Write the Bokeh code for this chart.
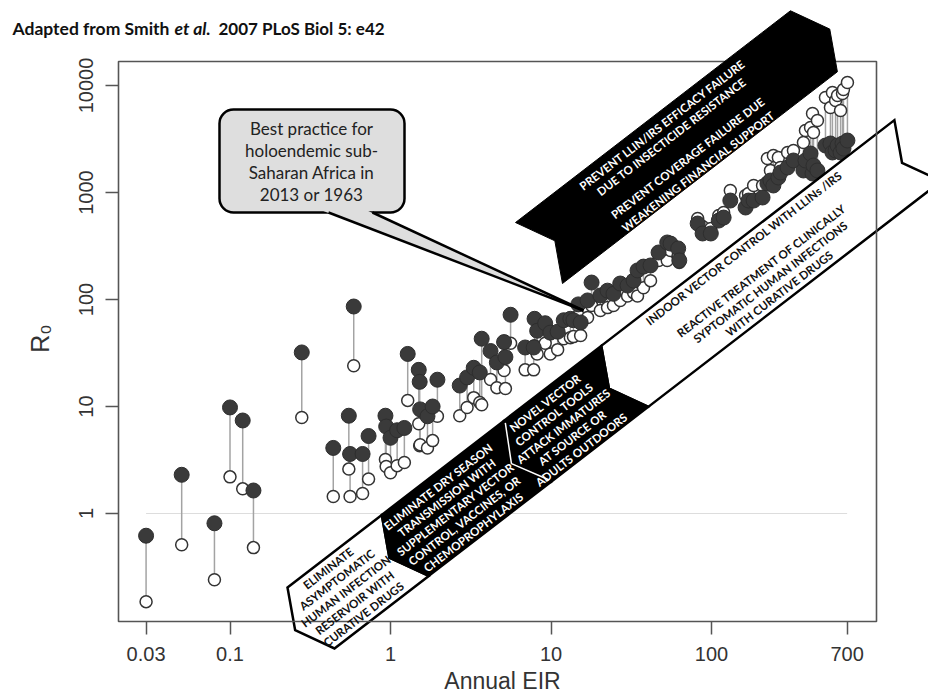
import math
from bokeh.plotting import figure
from bokeh.models import (ColumnDataSource, FixedTicker, Label, PolyAnnotation,
                          BoxAnnotation, Range1d, LogAxis, LogScale)
from bokeh.embed import file_html
from bokeh.resources import INLINE

# ---------------- data ----------------
eir = [0.03, 0.05, 0.08, 0.10, 0.12, 0.14, 0.28, 0.59, 0.44, 0.55,
       0.56, 0.67, 0.73, 0.93, 0.94, 1.0, 1.1, 1.22, 1.28, 1.5,
       1.52, 1.53, 1.7, 1.83, 1.96, 2.7,
       3.0, 3.3, 3.6, 3.7, 4.2, 4.6, 5.1, 5.2, 5.6, 6.9,
       7.8, 7.9, 8.2, 9.2, 9.9, 11, 12, 13.2, 13.8, 14.8,
       15.3, 16.9, 17.9, 20.3, 22.5, 24.5, 27, 30, 32.7, 34.6,
       37.7, 41.7, 46.8, 53, 55.6, 62, 63,
       82, 88, 99, 111, 119, 131, 163, 170, 183, 208,
       223, 233, 243, 261, 269, 298, 324, 374, 385, 414,
       426, 432, 457, 513, 551, 567, 593, 610, 637, 655,
       664, 703]
r0_filled = [0.62, 2.3, 0.81, 9.8, 7.4, 1.64, 32, 86, 4.1, 8.2,
             3.6, 3.6, 5.3, 8.2, 6.5, 5.1, 6.0, 6.3, 31, 22,
             17, 9.4, 8.1, 10, 17.8, 15.7,
             18.7, 23, 20.8, 43, 33, 25.8, 40, 29, 72, 35.6,
             35.6, 66, 51, 60, 49, 50, 64, 66, 64, 90,
             61, 98, 144, 109, 121, 113, 141, 135, 150, 187,
             203, 208, 275, 341, 333, 300, 232,
             513, 414, 414, 547, 583, 841, 724, 841, 841, 898,
             1213, 1294, 1163, 1380, 1537, 1713, 1991, 1606, 1991, 2314,
             1505, 1787, 1606, 2748, 2870, 2366, 2471, 2748, 2366, 2870,
             2578, 3060]
r0_open = [0.15, 0.51, 0.24, 2.2, 1.7, 0.48, 7.9, 24, 1.44, 2.6,
           1.44, 1.54, 2.1, 3.2, 2.75, 2.4, 2.8, 3.0, 11.4, 6.9,
           4.3, 4.4, 4.1, 4.8, 8.1, 8.2,
           9.8, 12.1, 10.9, 10.4, 17.9, 15, 21.7, 14.7, 39, 22,
           22, 37, 31, 39, 31, 34, 43, 44, 45, 71,
           46, 68, 88, 79, 84, 88, 98, 108, 116, 108,
           129, 150, 231, 231, 287, 258, 222,
           571, 481, 461, 610, 650, 1045, 937, 979, 1163, 1163,
           2080, 1606, 2218, 2124, 1713, 2366, 2471, 2930, 3793, 4048,
           5470, 3640, 4710, 7730, 6220, 8610, 7240, 8070, 5840, 8420,
           9180, 10670]

x_ticks = [0.03, 0.1, 1, 10, 100, 700]
x_tick_labels = ["0.03", "0.1", "1", "10", "100", "700"]
y_ticks = [1, 10, 100, 1000, 10000]
y_tick_labels = ["1", "10", "100", "1000", "10000"]
threshold_x = [0.03, 700]
threshold_y = [1, 1]

title_parts = ["Adapted from Smith", "et al.", "2007 PLoS Biol 5: e42"]
callout_lines = ["Best practice for", "holoendemic sub-", "Saharan Africa in", "2013 or 1963"]
banner_lines = ["PREVENT LLIN/IRS EFFICACY FAILURE", "DUE TO INSECTICIDE RESISTANCE",
                "PREVENT COVERAGE FAILURE DUE", "WEAKENING FINANCIAL SUPPORT"]
seg1_lines = ["ELIMINATE", "ASYMPTOMATIC", "HUMAN INFECTION", "RESERVOIR WITH", "CURATIVE DRUGS"]
seg2_lines = ["ELIMINATE DRY SEASON", "TRANSMISSION WITH", "SUPPLEMENTARY VECTOR",
              "CONTROL, VACCINES, OR", "CHEMOPROPHYLAXIS"]
seg3_lines = ["NOVEL VECTOR", "CONTROL TOOLS", "ATTACK IMMATURES", "AT SOURCE OR", "ADULTS OUTDOORS"]
seg4_lines = ["INDOOR VECTOR CONTROL WITH LLINs /IRS", "REACTIVE TREATMENT OF CLINICALLY",
              "SYPTOMATIC HUMAN INFECTIONS", "WITH CURATIVE DRUGS"]

# ---------------- layout ----------------
# The frame fills the whole canvas so that the arrows may leave the data box;
# the axes are pinned to the edges of the data box.
W, H = 928, 694
BOX_L, BOX_R, BOX_T, BOX_B = 118, 876, 61, 621   # data box in canvas pixels
DEC_X, DEC_Y = 160.5, 107.0                       # pixels per decade
X1, Y1 = 390.0, 513.0                             # canvas pixel of EIR=1 / R0=1


def to_data(cx, cy):
    return 10 ** ((cx - X1) / DEC_X), 10 ** ((Y1 - cy) / DEC_Y)


def pts_to_data(pts):
    xs, ys = [], []
    for cx, cy in pts:
        a, b = to_data(cx, cy)
        xs.append(a)
        ys.append(b)
    return xs, ys


x_start, y_start = to_data(0, H)
x_end, y_end = to_data(W, 0)
box_x0, box_y0 = to_data(BOX_L, BOX_B)
box_x1, box_y1 = to_data(BOX_R, BOX_T)

p = figure(width=W, height=H, x_axis_type=None, y_axis_type=None,
           x_range=Range1d(x_start, x_end), y_range=Range1d(y_start, y_end),
           output_backend="svg", toolbar_location=None, min_border=0)
p.x_scale = LogScale()
p.y_scale = LogScale()
p.background_fill_color = "white"
p.border_fill_color = "white"
p.outline_line_color = None
p.grid.grid_line_color = None

xaxis = LogAxis(ticker=FixedTicker(ticks=x_ticks), fixed_location=box_y0,
                major_label_overrides={t: l for t, l in zip(x_ticks, x_tick_labels)})
yaxis = LogAxis(ticker=FixedTicker(ticks=y_ticks), fixed_location=box_x0,
                major_label_overrides={t: l for t, l in zip(y_ticks, y_tick_labels)},
                major_label_orientation="vertical")
for ax in (xaxis, yaxis):
    ax.axis_line_color = None
    ax.major_tick_out = 13
    ax.major_tick_in = 0
    ax.major_tick_line_color = "#555555"
    ax.major_tick_line_width = 1.5
    ax.minor_tick_line_color = None
    ax.major_label_text_font = "Liberation Sans"
    ax.major_label_text_font_size = "20px"
    ax.major_label_text_color = "#333333"
xaxis.major_label_standoff = 12
yaxis.major_label_standoff = 13
p.add_layout(xaxis, "below")
p.add_layout(yaxis, "left")

# ---------------- data marks ----------------
p.line(threshold_x, threshold_y, line_color="#dddddd", line_width=1.2)
src = ColumnDataSource(dict(eir=eir, r0f=r0_filled, r0o=r0_open))
p.segment(x0="eir", y0="r0f", x1="eir", y1="r0o", source=src,
          line_color="#a3a3a3", line_width=1.5)
p.scatter("eir", "r0o", source=src, marker="circle", size=12,
          fill_color="white", line_color="#333333", line_width=1.5)
p.scatter("eir", "r0f", source=src, marker="circle", size=15,
          fill_color="#3a3a3a", line_color="#2e2e2e", line_width=1)

# ---------------- annotations ----------------
TH = math.radians(37.6)
UX, UY = math.cos(TH), -math.sin(TH)
NX, NY = math.sin(TH), math.cos(TH)
BW = 77.0


def band_px(origin, s, d):
    return origin[0] + s * UX + d * NX, origin[1] + s * UY + d * NY


def band_piece(origin, s0, s1, k):
    loc = [(s0, 0), (s1, 0), (s1 + k, BW / 2), (s1, BW), (s0, BW), (s0 + k, BW / 2)]
    return [band_px(origin, s, d) for s, d in loc]


def poly(pts, fill, line, lw=2.5, fill_alpha=1.0):
    xs, ys = pts_to_data(pts)
    p.add_layout(PolyAnnotation(xs=xs, ys=ys, fill_color=fill, fill_alpha=fill_alpha,
                                line_color=line, line_alpha=1.0 if line else 0.0,
                                line_width=lw, line_join="miter"))


def label(cx, cy, text, size, color, font="Lato", style="bold", angle=0.0,
          align="center", baseline="middle"):
    x, y = to_data(cx, cy)
    p.add_layout(Label(x=x, y=y, text=text, angle=angle, text_align=align,
                       text_baseline=baseline, text_font=font, text_font_style=style,
                       text_font_size=size, text_color=color))


BAN0 = (515.0, 222.0)
LOW0 = (287.0, 587.0)

# white arrows first, then the data box outline, then the black arrows
poly(band_piece(LOW0, 0, 119, -20), "white", "black")
poly(band_piece(LOW0, 396, 766, -20), "white", "black")
p.add_layout(BoxAnnotation(left=box_x0, right=box_x1, bottom=box_y0, top=box_y1,
                           fill_alpha=0.0, line_color="#555555", line_alpha=1.0,
                           line_width=1.6))
poly(band_piece(BAN0, 0, 347, 20), "black", "black", 1.0)
poly(band_piece(LOW0, 119, 273, -20), "black", "black")
poly(band_piece(LOW0, 273, 396, -20), "black", "black")
sep = [band_px(LOW0, 273, 2.5), band_px(LOW0, 253, BW / 2), band_px(LOW0, 273, BW - 2.5)]
sx, sy = pts_to_data(sep)
p.line(sx, sy, line_color="white", line_width=1.5, level="overlay")

# band texts
FS = "11.5px"
for d, t in zip([12, 27, 54, 71], banner_lines):
    cx, cy = band_px(BAN0, 176, d)
    label(cx, cy, t, FS, "white", angle=TH)
for d, t in zip([9.5, 24, 38.5, 53, 67.5], seg1_lines):
    cx, cy = band_px(LOW0, 44, d)
    label(cx, cy, t, FS, "#111111", angle=TH)
for d, t in zip([12, 26, 40.5, 55, 69.5], seg2_lines):
    cx, cy = band_px(LOW0, 181, d)
    label(cx, cy, t, FS, "white", angle=TH)
for d, t in zip([11, 25.5, 40.5, 55, 70], seg3_lines):
    cx, cy = band_px(LOW0, 317, d)
    label(cx, cy, t, FS, "white", angle=TH)
for d, t in zip([9.5, 38, 52.5, 67], seg4_lines):
    cx, cy = band_px(LOW0, 569, d)
    label(cx, cy, t, FS, "#111111", angle=TH)

# callout
bl, bt = to_data(219, 109)
br, bb = to_data(404, 212)
p.add_layout(BoxAnnotation(left=bl, right=br, top=bt, bottom=bb, border_radius=14,
                           fill_color="#dedede", fill_alpha=1.0, line_color="black",
                           line_alpha=1.0, line_width=2.5))
poly([(317.6, 208.5), (363.4, 208.5), (583, 310)], "#dedede", None, 0)
poly([(328, 212), (583, 310)], None, "black", 2.5, 0.0)
poly([(372, 212), (583, 310)], None, "black", 2.5, 0.0)
for cy, t in zip([128, 150, 172, 194], callout_lines):
    label(311, cy, t, "17px", "#222222", style="normal")

# title
label(12, 28, title_parts[0], "17.5px", "#111111", align="left")
label(174, 28, title_parts[1], "17.5px", "#111111", style="bold italic", align="left")
label(218, 28, title_parts[2], "17px", "#111111", align="left")

# axis titles
label(502, 680, "Annual EIR", "23px", "#333333", font="Liberation Sans", style="normal")
label(39, 338, "R\u2080", "25px", "#333333", font="Liberation Sans", style="normal",
      angle=math.pi / 2)

open("out.html", "w").write(file_html(p, INLINE))
